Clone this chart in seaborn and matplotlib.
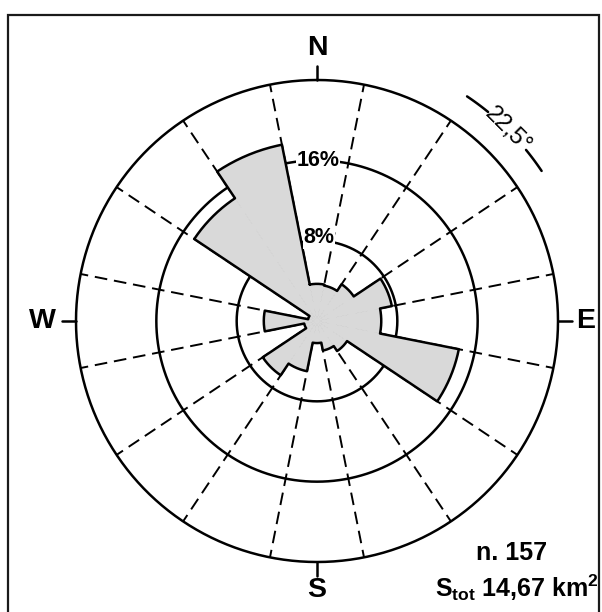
import numpy as np
import pandas as pd
import matplotlib
matplotlib.use("Agg")
import matplotlib.pyplot as plt
from matplotlib.patches import Rectangle
import seaborn as sns

# Sector frequencies (%) clockwise from north, 22.5 degree sectors
directions = ["N", "NNE", "NE", "ENE", "E", "ESE", "SE", "SSE",
              "S", "SSW", "SW", "WSW", "W", "WNW", "NW", "NNW"]
frequency_pct = [3.7, 3.6, 4.4, 7.6, 6.4, 14.4, 3.6, 3.0,
                 2.2, 5.1, 6.5, 1.3, 5.3, 0.9, 14.7, 17.9]
ring_levels = [8, 16, 24]
ring_labels = ["8%", "16%"]
cardinal_labels = ["N", "E", "S", "W"]
sector_label = "22,5°"
count_label = "n. 157"
area_label = r"$\mathbf{S_{tot}}$ 14,67 km$^{\mathbf{2}}$"

sns.set_theme(style="white")
plt.rcParams["font.family"] = ["Liberation Sans", "DejaVu Sans"]
plt.rcParams["mathtext.fontset"] = "custom"
plt.rcParams["mathtext.bf"] = "Liberation Sans:bold"
plt.rcParams["mathtext.rm"] = "Liberation Sans"

W_PX, H_PX = 602, 612
fig = plt.figure(figsize=(W_PX / 100, H_PX / 100), dpi=100)
fig.patch.set_facecolor("white")

# polar axes: centre (317, 321) px, outer ring radius 241 px
cx, cy, rad = 317, 321, 241
ax = fig.add_axes([(cx - rad) / W_PX, (H_PX - cy - rad) / H_PX,
                   2 * rad / W_PX, 2 * rad / H_PX], projection="polar")
ax.set_theta_zero_location("N")
ax.set_theta_direction(-1)
r_max = ring_levels[-1]
ax.set_ylim(0, r_max)
ax.set_axis_off()

n = len(directions)
width = 2 * np.pi / n
centers = np.arange(n) * width
df = pd.DataFrame({"direction": directions, "theta": centers, "pct": frequency_pct})

ink = "black"
petal_gray = "#d9d9d9"
lw_main = 1.8

# sector boundaries (dashed)
for k in range(n):
    b = centers[k] + width / 2
    ax.plot([b, b], [0, r_max], color=ink, lw=1.4, ls=(0, (6.5, 3.5)), zorder=1)

# reference rings
full = np.linspace(0, 2 * np.pi, 721)
for lev in ring_levels:
    ax.plot(full, np.full_like(full, lev), color=ink, lw=lw_main, zorder=1, clip_on=False)

# petals
ax.bar(df["theta"], df["pct"], width=width, bottom=0, color=petal_gray,
       edgecolor=petal_gray, linewidth=0.6, align="center", zorder=3)

# outline of the rose
th_pts, r_pts = [], []
for i in range(n):
    t = np.linspace(centers[i] - width / 2, centers[i] + width / 2, 30)
    th_pts.extend(t)
    r_pts.extend([frequency_pct[i]] * len(t))
th_pts.append(th_pts[0])
r_pts.append(r_pts[0])
outline = pd.DataFrame({"theta": th_pts, "r": r_pts, "step": np.arange(len(th_pts))})
sns.lineplot(data=outline, x="theta", y="r", sort=False, estimator=None,
             color=ink, lw=lw_main, ax=ax, zorder=4)
ax.set_xlabel("")
ax.set_ylabel("")

# ring labels
ax.text(np.deg2rad(1.4), 8.3, ring_labels[0], ha="center", va="center",
        fontsize=15.5, fontweight="bold", color=ink, zorder=5,
        bbox=dict(fc="white", ec="none", pad=0.5))
ax.text(np.deg2rad(0.4), 16.0, ring_labels[1], ha="center", va="center",
        fontsize=15.5, fontweight="bold", color=ink, zorder=5,
        bbox=dict(fc="white", ec="none", pad=0.5))

# cardinal ticks and labels
card_theta = np.deg2rad([0, 90, 180, 270])
card_r = [27.2, 26.75, 26.8, 27.3]
for t, lab, rr in zip(card_theta, cardinal_labels, card_r):
    ax.plot([t, t], [r_max, 25.4], color=ink, lw=lw_main, clip_on=False, zorder=2)
    ax.text(t, rr, lab, ha="center", va="center", fontsize=20.5,
            fontweight="bold", color=ink, clip_on=False)

# sector width indicator (NE sector)
r_arc = 26.9
ne = centers[2]
for a0, a1 in [(ne - width / 2, np.deg2rad(39.3)), (np.deg2rad(50.7), ne + width / 2)]:
    t = np.linspace(a0, a1, 30)
    ax.plot(t, np.full_like(t, r_arc), color=ink, lw=lw_main, clip_on=False)
ax.text(ne, r_arc, sector_label, ha="center", va="center", rotation=-45,
        rotation_mode="anchor", fontsize=17, fontweight="medium", color=ink, clip_on=False)

# summary text
fig.text(512 / W_PX, 1 - 553 / H_PX, count_label, ha="center", va="center",
         fontsize=18, fontweight="bold", color=ink)
fig.text(517 / W_PX, 1 - 588 / H_PX, area_label, ha="center", va="center",
         fontsize=18, fontweight="bold", color=ink)

# frame
fig.add_artist(Rectangle((8 / W_PX, -0.1), (599 - 8) / W_PX, (H_PX - 15) / H_PX + 0.1,
                         transform=fig.transFigure, fill=False, ec="#1a1a1a", lw=1.6))

fig.savefig("out.png", dpi=100, facecolor="white")
